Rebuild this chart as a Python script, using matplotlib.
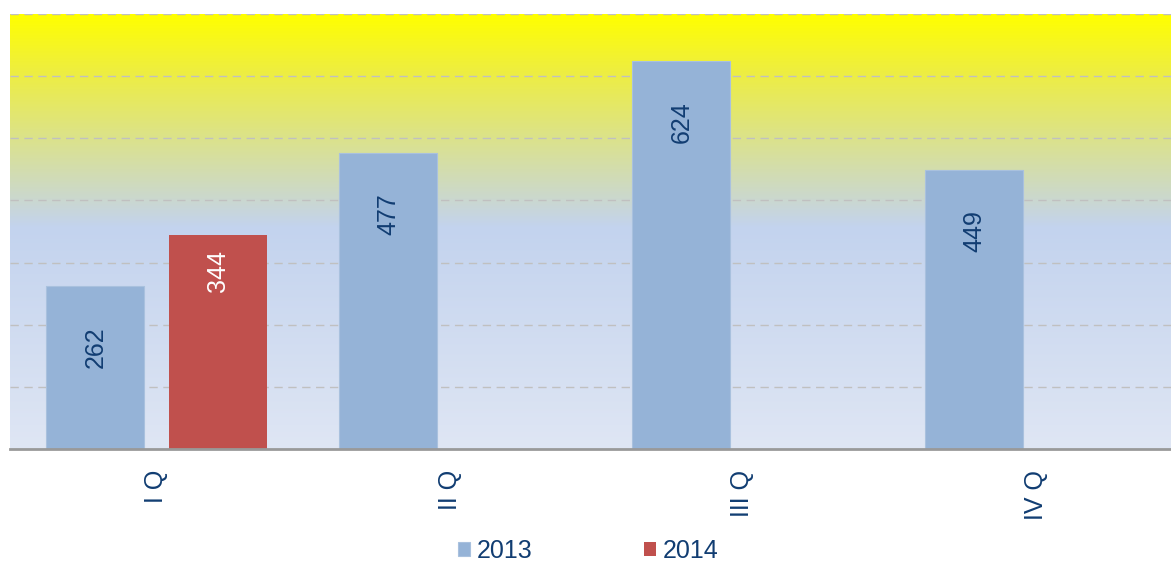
import numpy as np
import matplotlib
matplotlib.use("Agg")
import matplotlib.pyplot as plt
from matplotlib.colors import LinearSegmentedColormap

# chart data
quarters = ["I Q", "II Q", "III Q", "IV Q"]
values_2013 = [262, 477, 624, 449]
values_2014 = [344, None, None, None]
series_names = ["2013", "2014"]

BLUE = "#95B3D7"
RED = "#C0504D"
TEXT = "#113D72"

plt.rcParams["font.family"] = ["Liberation Sans", "DejaVu Sans"]

fig = plt.figure(figsize=(11.71, 5.63), dpi=100)
# plot area runs off the right edge of the image, like the original
ax = fig.add_axes([10 / 1171, 114 / 563, 1172 / 1171, 435 / 563])

# yellow (top) -> blue (bottom) background gradient
bg = LinearSegmentedColormap.from_list(
    "bg", [(0.0, "#FFFF00"), (0.13, "#EEEE40"), (0.49, "#C3D3EE"), (1.0, "#DFE6F4")]
)
grad = np.linspace(0, 1, 256).reshape(-1, 1)
ax.imshow(grad, cmap=bg, extent=(-0.5, 3.5, 0, 700), aspect="auto",
          origin="upper", zorder=0)

x = np.arange(len(quarters))
off, w = 0.209, 0.334

b13 = ax.bar(x - off, values_2013, w, color=BLUE, edgecolor="#A9C1DE",
             linewidth=0.8, zorder=3, label=series_names[0])
x14 = [xi + off for xi, v in zip(x, values_2014) if v is not None]
v14 = [v for v in values_2014 if v is not None]
b14 = ax.bar(x14, v14, w, color=RED, zorder=3, label=series_names[1])

# value labels, rotated inside the bars near the top
for rect, v in zip(b13, values_2013):
    ax.annotate(str(v), (rect.get_x() + rect.get_width() / 2, v),
                xytext=(0, -44), textcoords="offset points", rotation=90,
                ha="center", va="center", fontsize=18, color=TEXT, zorder=4)
for rect, v in zip(b14, v14):
    ax.annotate(str(v), (rect.get_x() + rect.get_width() / 2, v),
                xytext=(0, -26), textcoords="offset points", rotation=90,
                ha="center", va="center", fontsize=18, color="white", zorder=4)

ax.set_xlim(-0.5, 3.5)
ax.set_ylim(0, 700)
ax.set_yticks(np.arange(100, 701, 100))
ax.yaxis.grid(True, color="#C0C0C0", linestyle=(0, (6, 4)), linewidth=1)
ax.set_axisbelow(False)
for gl in ax.get_ygridlines():
    gl.set_zorder(1)
ax.tick_params(axis="y", left=False, labelleft=False)
ax.set_xticks(x)
ax.set_xticklabels(quarters, rotation=90, fontsize=18, color=TEXT)
ax.tick_params(axis="x", length=0, pad=15)
for s in ["top", "right", "left"]:
    ax.spines[s].set_visible(False)
ax.spines["bottom"].set_color("#999999")
ax.spines["bottom"].set_linewidth(2)
ax.spines["bottom"].set_zorder(5)

fig.legend(handles=[b13, b14], labels=series_names, loc="center",
           bbox_to_anchor=(588 / 1171, 1 - 551 / 563), ncol=2, frameon=False,
           fontsize=18, handlelength=0.5, handleheight=0.5, handletextpad=0.25,
           columnspacing=4.45, labelcolor=TEXT)

fig.savefig("out.png", dpi=100)
